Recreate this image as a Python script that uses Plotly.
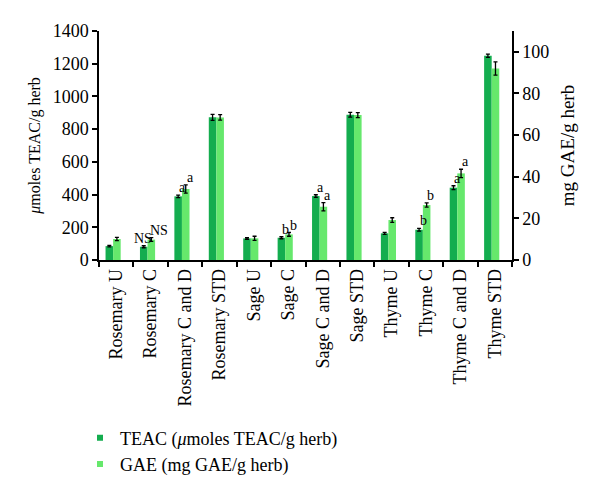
import plotly.graph_objects as go

categories = ["Rosemary U", "Rosemary C", "Rosemary C and D", "Rosemary STD",
              "Sage U", "Sage C", "Sage C and D", "Sage STD",
              "Thyme U", "Thyme C", "Thyme C and D", "Thyme STD"]
teac = [85, 81, 389, 872, 132, 136, 391, 888, 163, 185, 442, 1249]
teac_err = [5, 6, 8, 18, 5, 6, 8, 15, 6, 8, 12, 10]
gae = [10.1, 9.8, 34.1, 68.5, 10.4, 12.3, 25.6, 69.6, 19.2, 26.4, 41.6, 92.0]
gae_err = [0.8, 0.9, 2.0, 1.3, 1.0, 0.9, 2.0, 1.2, 1.1, 1.0, 2.0, 3.2]
teac_labels = ["", "NS", "a", "", "", "b", "a", "", "", "b", "a", ""]
gae_labels = ["", "NS", "a", "", "", "b", "a", "", "", "b", "a", ""]

DARK = "#14ad4f"
LIGHT = "#66e86c"
FONT = "Liberation Serif"


def f(size):
    return dict(family=FONT, size=size, color="black")


fig = go.Figure()
fig.add_trace(go.Bar(
    x=categories, y=teac, yaxis="y", width=0.22, offset=-0.31,
    marker=dict(color=DARK, line=dict(width=0)),
    error_y=dict(type="data", array=teac_err, color="black", thickness=1.3, width=2),
    showlegend=False,
))
fig.add_trace(go.Bar(
    x=categories, y=gae, yaxis="y2", width=0.22, offset=-0.09,
    marker=dict(color=LIGHT, line=dict(width=0)),
    error_y=dict(type="data", array=gae_err, color="black", thickness=1.3, width=2),
    showlegend=False,
))
fig.add_trace(go.Scatter(x=[None], y=[None], mode="markers",
                         marker=dict(symbol="square", size=6, color=DARK),
                         name="TEAC (<i>μ</i>moles TEAC/g herb)"))
fig.add_trace(go.Scatter(x=[None], y=[None], mode="markers",
                         marker=dict(symbol="square", size=6, color=LIGHT),
                         name="GAE (mg GAE/g herb)"))

annotations = []
for i, c in enumerate(categories):
    if teac_labels[i]:
        annotations.append(dict(x=c, y=teac[i] + teac_err[i], xref="x", yref="y",
                                text=teac_labels[i], showarrow=False, yanchor="bottom",
                                xshift=-2.5 - (5 if teac_labels[i] == "NS" else 0),
                                yshift=-2, font=f(14)))
    if gae_labels[i]:
        annotations.append(dict(x=c, y=gae[i] + gae_err[i], xref="x", yref="y2",
                                text=gae_labels[i], showarrow=False, yanchor="bottom",
                                xshift=5 + (3 if gae_labels[i] == "NS" else 0),
                                yshift=-2, font=f(14)))

fig.update_layout(
    width=592, height=475,
    margin=dict(l=91, r=88, t=23, b=223, autoexpand=False),
    paper_bgcolor="white", plot_bgcolor="white",
    barmode="overlay",
    font=f(18),
    xaxis=dict(range=[-0.5, 11.5], tickson="boundaries", ticks="outside", ticklen=5,
               tickwidth=1.5, tickcolor="black", showline=True, linecolor="black",
               linewidth=1.5, tickangle=-90, showgrid=False, tickfont=f(18)),
    yaxis=dict(range=[0, 1400], dtick=200, ticks="outside", ticklen=5, tickwidth=1.5,
               tickcolor="black", showline=True, linecolor="black", linewidth=1.5,
               showgrid=False, zeroline=False, tickfont=f(18),
               title=dict(text="<i>μ</i>moles TEAC/g herb", font=f(16), standoff=8)),
    yaxis2=dict(range=[0, 110], tickvals=[0, 20, 40, 60, 80, 100], overlaying="y",
                side="right", ticks="outside", ticklen=5, tickwidth=1.5, tickcolor="black",
                showline=True, linecolor="black", linewidth=1.5, showgrid=False,
                zeroline=False, tickfont=f(18),
                title=dict(text="mg GAE/g herb", font=f(19), standoff=12)),
    legend=dict(x=-0.046, y=-0.834, xanchor="left", yanchor="middle",
                font=f(18), bgcolor="rgba(0,0,0,0)", tracegroupgap=0),
    annotations=annotations,
)

fig.write_html("out.html")
